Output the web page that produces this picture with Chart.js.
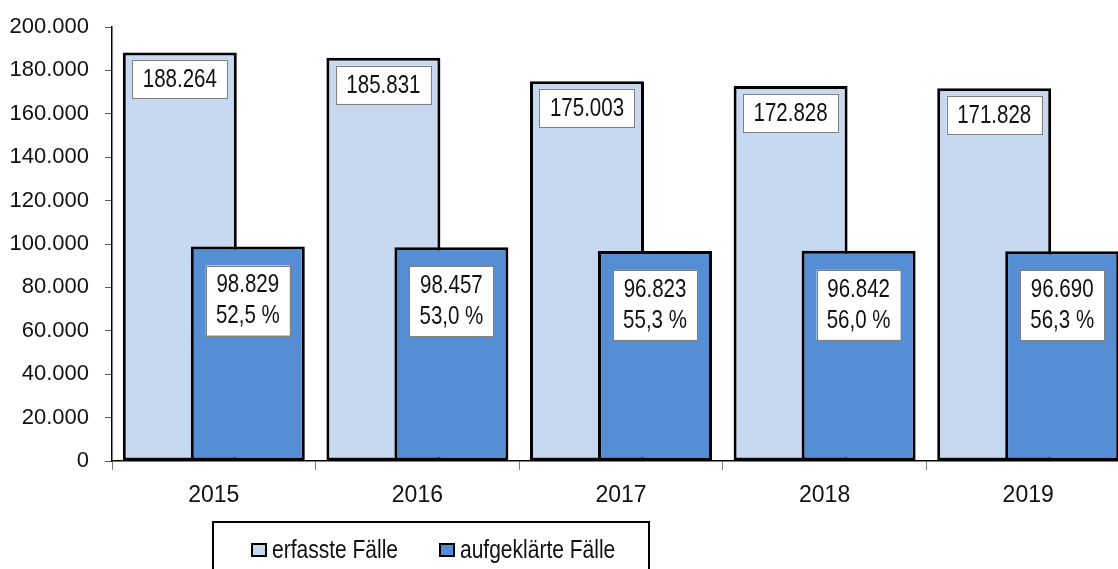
<!DOCTYPE html>
<html>
<head>
<meta charset="utf-8">
<script src="https://cdn.jsdelivr.net/npm/chart.js@4"></script>
<style>
  html, body { margin: 0; padding: 0; background: #fff; overflow: hidden; }
  #wrap { position: relative; width: 1118px; height: 569px; overflow: hidden; }
  #chart { position: absolute; left: 0; top: 0; }
  #legend {
    position: absolute; left: 212px; top: 521px; width: 438px; height: 60px;
    border: 2px solid #000; box-sizing: border-box;
    font-family: 'Liberation Sans', Arial, sans-serif;
    font-size: 25px; color: #111;
  }
  #legend span { position: absolute; top: 11px; line-height: 30px; white-space: nowrap; transform: scaleX(0.84); transform-origin: left center; }
  #legend i { position: absolute; top: 20px; width: 12px; height: 10px; border: 2px solid #000; }
</style>
</head>
<body>
<div id="wrap">
  <canvas id="chart" width="1130" height="569"></canvas>
  <div id="legend">
    <i style="left:37px;background:#c6d9f1"></i><span style="left:58px">erfasste Fälle</span>
    <i style="left:225px;background:#558ed5"></i><span style="left:246px">aufgeklärte Fälle</span>
  </div>
</div>
<script>
const years = ['2015', '2016', '2017', '2018', '2019'];
const erfasst = [188264, 185831, 175003, 172828, 171828];
const aufgeklaert = [98829, 98457, 96823, 96842, 96690];
const quote = [52.5, 53.0, 55.3, 56.0, 56.3];

const FONT = "'Liberation Sans', Arial, sans-serif";

function fmt(n) {
  return String(n).replace(/\B(?=(\d{3})+(?!\d))/g, '.');
}
function fmtPct(p) {
  return p.toFixed(1).replace('.', ',') + ' %';
}

// narrow text like Arial Narrow: squeeze the regular face horizontally
function narrowText(ctx, text, x, y) {
  ctx.save();
  ctx.translate(x, y);
  ctx.scale(0.82, 1);
  ctx.fillText(text, 0, 0);
  ctx.restore();
}

function labelBox(ctx, cx, top, w, h) {
  ctx.fillStyle = '#fff';
  ctx.fillRect(cx - w / 2, top, w, h);
  ctx.strokeStyle = '#7f7f7f';
  ctx.lineWidth = 1;
  ctx.strokeRect(Math.round(cx - w / 2) + 0.5, Math.round(top) + 0.5, w, h);
}

// dark bars must sit on top of the light ones, so draw them last
const barsOnTop = {
  id: 'barsOnTop',
  beforeDatasetDraw(chart, args) {
    if (args.index === 1) return false;
  },
  afterDatasetsDraw(chart) {
    const ctx = chart.ctx;
    ctx.save();
    chart.getDatasetMeta(1).controller.draw();
    ctx.restore();

    ctx.save();
    ctx.font = '25px ' + FONT;
    ctx.textAlign = 'center';
    ctx.textBaseline = 'middle';
    chart.getDatasetMeta(0).data.forEach((bar, i) => {
      const w = 95, h = 38, top = bar.y + 8;
      labelBox(ctx, bar.x, top, w, h);
      ctx.fillStyle = '#111';
      narrowText(ctx, fmt(erfasst[i]), bar.x, top + h / 2 + 1);
    });
    chart.getDatasetMeta(1).data.forEach((bar, i) => {
      const w = 84, h = 70, top = bar.y + 19;
      labelBox(ctx, bar.x, top, w, h);
      ctx.fillStyle = '#111';
      narrowText(ctx, fmt(aufgeklaert[i]), bar.x, top + 20);
      narrowText(ctx, fmtPct(quote[i]), bar.x, top + 51);
    });
    ctx.restore();
  }
};

new Chart(document.getElementById('chart'), {
  type: 'bar',
  data: {
    labels: years,
    datasets: [
      {
        label: 'erfasste Fälle',
        data: erfasst,
        backgroundColor: '#c6d9f1',
        borderColor: '#000',
        borderWidth: 3,
        borderSkipped: false
      },
      {
        label: 'aufgeklärte Fälle',
        data: aufgeklaert,
        backgroundColor: '#558ed5',
        borderColor: '#000',
        borderWidth: 3,
        borderSkipped: false
      }
    ]
  },
  options: {
    responsive: false,
    animation: false,
    devicePixelRatio: 1,
    categoryPercentage: 0.668,
    barPercentage: 1.676,
    layout: { padding: { top: 27, left: 0, right: 0, bottom: 58 } },
    plugins: {
      legend: { display: false },
      tooltip: { enabled: false }
    },
    scales: {
      x: {
        grid: { drawOnChartArea: false, drawTicks: true, tickLength: 9, color: '#7f7f7f', offset: true },
        border: { display: true, color: '#000', width: 1.5 },
        ticks: { color: '#111', padding: 12, font: { family: FONT, size: 23 } },
        afterFit(s) { s.height = 50; s.paddingLeft = 0; s.paddingRight = 0; }
      },
      y: {
        min: 0,
        max: 200000,
        grid: { drawOnChartArea: false, drawTicks: true, tickLength: 7, color: '#595959' },
        border: { display: true, color: '#000', width: 1.5 },
        ticks: {
          stepSize: 20000,
          autoSkip: false,
          color: '#111',
          padding: 16,
          font: { family: FONT, size: 22 },
          callback: v => fmt(v)
        },
        afterFit(s) { s.width = 112; s.paddingTop = 0; s.paddingBottom = 0; }
      }
    }
  },
  plugins: [barsOnTop]
});
</script>
</body>
</html>
